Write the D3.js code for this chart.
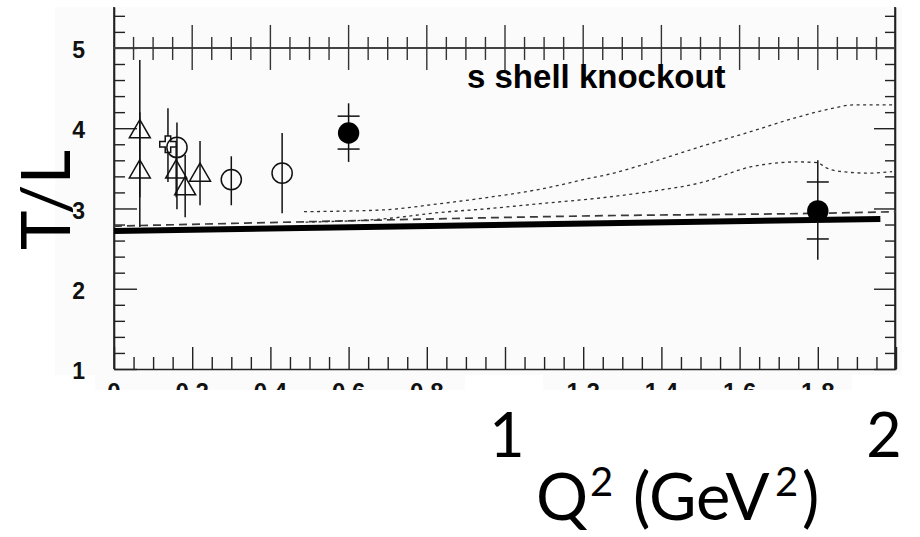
<!DOCTYPE html>
<html>
<head>
<meta charset="utf-8">
<script src="https://cdn.jsdelivr.net/npm/d3@7"></script>
<style>
  html, body { margin: 0; padding: 0; background: #ffffff; }
  svg { display: block; }
</style>
</head>
<body>
<svg id="chart" width="920" height="537"></svg>
<script>
// ---- data ----------------------------------------------------------
// open triangles: Q2, T/L, lower and upper error
const triQ   = [0.066, 0.066, 0.159, 0.182, 0.22];
const triTL  = [3.98, 3.48, 3.48, 3.27, 3.44];
const triLo  = [2.77, 3.14, 3.14, 2.89, 3.04];
const triHi  = [4.85, 4.20, 3.76, 3.67, 3.84];

// open cross
const crossQ  = [0.138];
const crossTL = [3.80];
const crossLo = [3.33];
const crossHi = [4.25];

// open circles
const openQ  = [0.161, 0.30, 0.43];
const openTL = [3.76, 3.36, 3.44];
const openLo = [2.99, 3.04, 2.94];
const openHi = [4.07, 3.65, 3.94];

// filled circles: total error and inner (statistical) error marks
const fillQ     = [0.60, 1.80];
const fillTL    = [3.94, 2.97];
const fillLo    = [3.58, 2.36];
const fillHi    = [4.31, 3.60];
const fillInLo  = [3.74, 2.62];
const fillInHi  = [4.15, 3.33];

// model curves
const solidQ  = [0, 1.96];
const solidTL = [2.72, 2.87];

const dashQ  = [0, 0.45, 1.25, 1.8, 2.0];
const dashTL = [2.78, 2.83, 2.91, 2.94, 2.96];

const dotAQ  = [0.486, 0.68, 0.834, 0.96, 1.09, 1.22, 1.26, 1.37, 1.50, 1.63, 1.75, 1.84, 1.89, 1.99];
const dotATL = [2.96, 2.98, 3.06, 3.14, 3.24, 3.38, 3.42, 3.57, 3.77, 3.96, 4.14, 4.25, 4.29, 4.29];

const dotBQ  = [0.49, 0.688, 0.834, 0.962, 1.09, 1.26, 1.37, 1.50, 1.63, 1.70, 1.75, 1.80, 1.82, 1.86, 1.93, 1.99];
const dotBTL = [2.83, 2.87, 2.95, 3.00, 3.06, 3.14, 3.21, 3.32, 3.52, 3.57, 3.58, 3.57, 3.51, 3.46, 3.44, 3.46];

// axis ticks
const yMajor = [1, 2, 3, 4, 5];
const yMinor = d3.range(5, 28).map(i => i / 5).filter(v => Math.abs(v - Math.round(v)) > 1e-6);
const xMajor = d3.range(0, 11).map(i => i / 5);
const xMinor = d3.range(0, 41).map(i => i / 20).filter(v => Math.abs(v * 5 - Math.round(v * 5)) > 1e-6);
// tick labels printed along the strip under the frame
const xLabelVals = [0, 0.2, 0.4, 0.6, 0.8, 1.2, 1.4, 1.6, 1.8];
const xLabels    = ["0", "0.2", "0.4", "0.6", "0.8", "1.2", "1.4", "1.6", "1.8"];

const panelTitle = "s shell knockout";
const yTitle = "T/L";
const bigXTicks = ["1", "2"];
const bigXTickVals = [1, 2];

// ---- layout --------------------------------------------------------
const svg = d3.select("#chart");
const x = d3.scaleLinear().domain([0, 2]).range([114, 896]);
const y = d3.scaleLinear().domain([1, 5.51]).range([369, 7]);
const bold = "'Liberation Sans', Arial, Helvetica, sans-serif";
const bigFont = "Lato, 'Open Sans', sans-serif";
const axisColor = "#222";

// panel backgrounds
svg.append("rect").attr("x", 55).attr("y", 7).attr("width", 847).attr("height", 368).attr("fill", "#fbfbfb");
svg.append("rect").attr("x", 95).attr("y", 375).attr("width", 370).attr("height", 15).attr("fill", "#fbfbfb");
svg.append("rect").attr("x", 543).attr("y", 375).attr("width", 309).attr("height", 15).attr("fill", "#fbfbfb");

svg.append("defs").append("clipPath").attr("id", "labelClip")
  .append("rect").attr("x", 95).attr("y", 370).attr("width", 757).attr("height", 20);

// left axis: major ticks with labels, minor ticks
const gl = svg.append("g").attr("transform", `translate(${x(0)},0)`);
gl.call(d3.axisLeft(y).tickValues(yMajor).tickSize(-23).tickSizeOuter(0).tickPadding(29).tickFormat(d3.format("d")));
gl.append("g").call(d3.axisLeft(y).tickValues(yMinor).tickSize(-11).tickFormat("")).select(".domain").remove();
gl.selectAll("text").attr("font-family", bold).attr("font-weight", "bold").attr("font-size", 23).attr("fill", "#111").attr("dy", "0.42em");

// right axis
const gr = svg.append("g").attr("transform", `translate(895,0)`);
gr.call(d3.axisRight(y).tickValues(yMajor).tickSize(-21).tickSizeOuter(0).tickFormat(""));
gr.append("g").call(d3.axisRight(y).tickValues(yMinor).tickSize(-10).tickFormat("")).select(".domain").remove();

// bottom axis (ticks point up into the frame)
const gb = svg.append("g").attr("transform", `translate(0,${y(1)})`);
gb.call(d3.axisBottom(x).tickValues(xMajor).tickSize(-22).tickSizeOuter(0).tickFormat(""));
gb.append("g").call(d3.axisBottom(x).tickValues(xMinor).tickSize(-12).tickFormat("")).select(".domain").remove();

// bottom tick labels, only the upper part shows above the strip edge
svg.append("g").attr("clip-path", "url(#labelClip)")
  .selectAll("text").data(xLabelVals).join("text")
  .attr("x", d => x(d)).attr("y", y(1) + 31).attr("text-anchor", "middle")
  .attr("font-family", bold).attr("font-weight", "bold").attr("font-size", 24).attr("fill", "#111")
  .text((d, i) => xLabels[i]);

[gl, gr, gb].forEach(g => {
  g.selectAll("line").attr("stroke", axisColor).attr("stroke-width", 1.4);
  g.selectAll(".domain").attr("stroke", axisColor).attr("stroke-width", 1.6);
});
// frame sides run up to the top of the panel
svg.append("line").attr("x1", x(0)).attr("x2", x(0)).attr("y1", y(5.51)).attr("y2", y(1)).attr("stroke", axisColor).attr("stroke-width", 1.6);
svg.append("line").attr("x1", 895).attr("x2", 895).attr("y1", y(5.51)).attr("y2", y(1)).attr("stroke", axisColor).attr("stroke-width", 1.6);

// horizontal axis through T/L = 5 with ticks on both sides
const gTop = svg.append("g");
gTop.append("line").attr("x1", x(0)).attr("x2", 895).attr("y1", y(5)).attr("y2", y(5)).attr("stroke", "#444").attr("stroke-width", 2);
gTop.selectAll("line.maj").data(xMajor.slice(1, 10)).join("line").attr("class", "maj")
  .attr("x1", d => x(d)).attr("x2", d => x(d)).attr("y1", y(5) - 23).attr("y2", y(5) + 22)
  .attr("stroke", "#333").attr("stroke-width", 1.4);
gTop.selectAll("line.min").data(xMinor.filter(v => v < 1.99)).join("line").attr("class", "min")
  .attr("x1", d => x(d)).attr("x2", d => x(d)).attr("y1", y(5) - 11).attr("y2", y(5) + 12)
  .attr("stroke", "#333").attr("stroke-width", 1.4);

// ---- curves --------------------------------------------------------
const line = d3.line().x(d => x(d[0])).y(d => y(d[1])).curve(d3.curveMonotoneX);
const pairs = (a, b) => a.map((v, i) => [v, b[i]]);

svg.append("path").datum(pairs(dashQ, dashTL)).attr("d", line)
  .attr("fill", "none").attr("stroke", "#3a3a3a").attr("stroke-width", 1.7).attr("stroke-dasharray", "8,5");
svg.append("path").datum(pairs(dotAQ, dotATL)).attr("d", line)
  .attr("fill", "none").attr("stroke", "#333").attr("stroke-width", 1.3).attr("stroke-dasharray", "3,3.5");
svg.append("path").datum(pairs(dotBQ, dotBTL)).attr("d", line)
  .attr("fill", "none").attr("stroke", "#333").attr("stroke-width", 1.3).attr("stroke-dasharray", "3,3.5");
svg.append("path").datum(pairs(solidQ, solidTL)).attr("d", d3.line().x(d => x(d[0])).y(d => y(d[1])))
  .attr("fill", "none").attr("stroke", "#000").attr("stroke-width", 6);

// ---- data points ---------------------------------------------------
const ink = "#111";
function errBars(qs, lo, hi) {
  svg.append("g").selectAll("line").data(qs).join("line")
    .attr("x1", d => x(d)).attr("x2", d => x(d))
    .attr("y1", (d, i) => y(hi[i])).attr("y2", (d, i) => y(lo[i]))
    .attr("stroke", ink).attr("stroke-width", 1.5);
}
errBars(triQ, triLo, triHi);
errBars(crossQ, crossLo, crossHi);
errBars(openQ, openLo, openHi);
errBars(fillQ, fillLo, fillHi);

// inner error marks on filled points
const gIn = svg.append("g");
fillQ.forEach((q, i) => {
  [fillInLo[i], fillInHi[i]].forEach(v => {
    gIn.append("line").attr("x1", x(q) - 11).attr("x2", x(q) + 11).attr("y1", y(v)).attr("y2", y(v))
      .attr("stroke", ink).attr("stroke-width", 1.5);
  });
});

const sym = (type, size) => d3.symbol().type(type).size(size)();
svg.append("g").selectAll("path").data(crossQ).join("path")
  .attr("transform", (d, i) => `translate(${x(d)},${y(crossTL[i])})`)
  .attr("d", sym(d3.symbolCross, 150)).attr("fill", "#fbfbfb").attr("stroke", ink).attr("stroke-width", 1.5);
svg.append("g").selectAll("path").data(openQ).join("path")
  .attr("transform", (d, i) => `translate(${x(d)},${y(openTL[i])})`)
  .attr("d", sym(d3.symbolCircle, 320)).attr("fill", "none").attr("stroke", ink).attr("stroke-width", 1.5);
svg.append("g").selectAll("path").data(triQ).join("path")
  .attr("transform", (d, i) => `translate(${x(d)},${y(triTL[i]) + 2})`)
  .attr("d", sym(d3.symbolTriangle, 190)).attr("fill", "none").attr("stroke", ink).attr("stroke-width", 1.5);
svg.append("g").selectAll("path").data(fillQ).join("path")
  .attr("transform", (d, i) => `translate(${x(d)},${y(fillTL[i])})`)
  .attr("d", sym(d3.symbolCircle, 360)).attr("fill", "#000");

// ---- text ----------------------------------------------------------
svg.append("text").attr("x", 467).attr("y", 88).text(panelTitle)
  .attr("font-family", bold).attr("font-weight", "bold").attr("font-size", 33).attr("fill", "#000");

svg.append("text").attr("transform", "translate(70,200) rotate(-90)").attr("text-anchor", "middle")
  .attr("font-family", bigFont).attr("font-size", 67).attr("fill", "#000").text(yTitle);

svg.append("g").selectAll("text").data(bigXTickVals).join("text")
  .attr("x", (d, i) => i === 0 ? 507 : 884).attr("y", 457).attr("text-anchor", "middle")
  .attr("font-family", bigFont).attr("font-size", 61).attr("fill", "#000")
  .text((d, i) => bigXTicks[i]);

// axis title Q² (GeV²)
const xt = svg.append("text").attr("y", 520)
  .attr("font-family", bigFont).attr("font-size", 65).attr("fill", "#000");
xt.append("tspan").attr("x", 536).text("Q");
xt.append("tspan").attr("x", 590).attr("font-size", 40).attr("dy", -24).text("2");
xt.append("tspan").attr("x", 633).attr("dy", 24).text("(GeV");
xt.append("tspan").attr("x", 775).attr("font-size", 40).attr("dy", -24).text("2");
xt.append("tspan").attr("x", 802).attr("dy", 24).text(")");
</script>
</body>
</html>
